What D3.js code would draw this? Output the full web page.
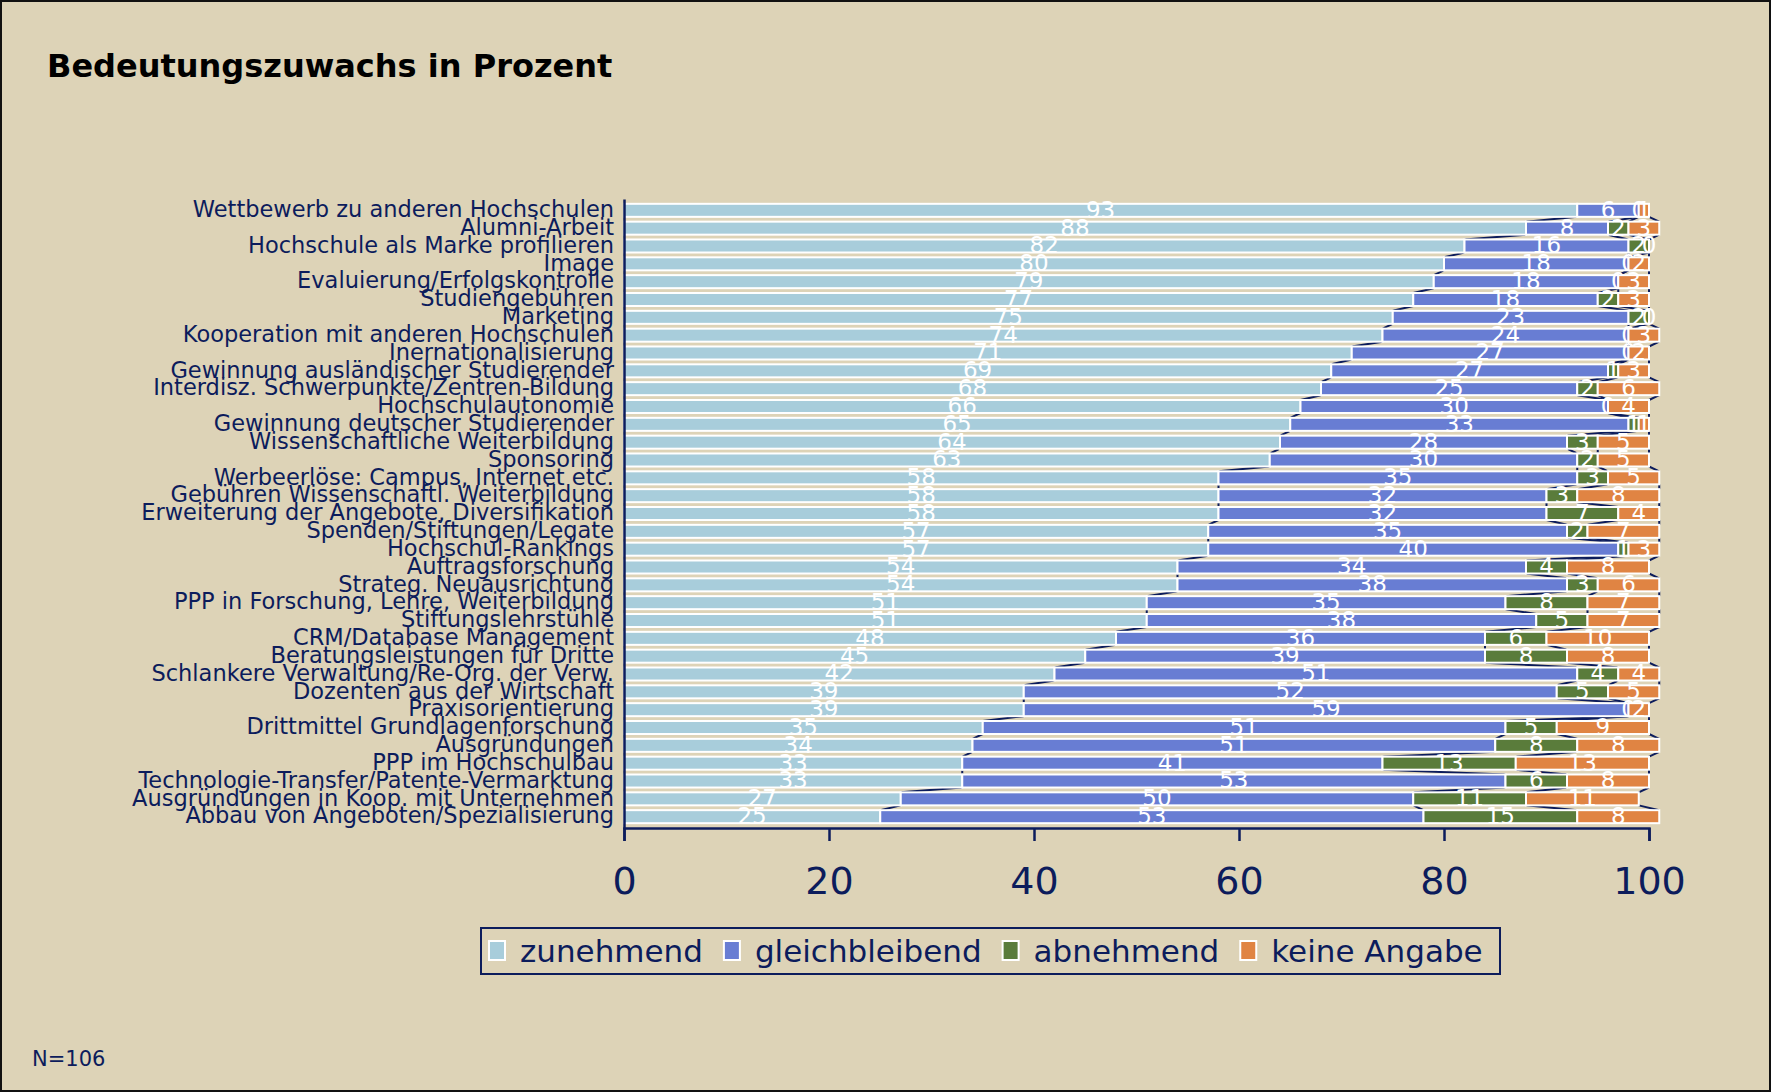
<!DOCTYPE html>
<html>
<head>
<meta charset="utf-8">
<script src="https://cdn.jsdelivr.net/npm/d3@7"></script>
<style>
  body { margin: 0; background: #ddd3b7; }
  text { font-family: 'DejaVu Sans', Verdana, sans-serif; }
</style>
</head>
<body>
<script>
// categories top to bottom
var categories = [
  'Wettbewerb zu anderen Hochschulen',
  'Alumni-Arbeit',
  'Hochschule als Marke profilieren',
  'Image',
  'Evaluierung/Erfolgskontrolle',
  'Studiengebühren',
  'Marketing',
  'Kooperation mit anderen Hochschulen',
  'Inernationalisierung',
  'Gewinnung ausländischer Studierender',
  'Interdisz. Schwerpunkte/Zentren-Bildung',
  'Hochschulautonomie',
  'Gewinnung deutscher Studierender',
  'Wissenschaftliche Weiterbildung',
  'Sponsoring',
  'Werbeerlöse: Campus, Internet etc.',
  'Gebühren Wissenschaftl. Weiterbildung',
  'Erweiterung der Angebote, Diversifikation',
  'Spenden/Stiftungen/Legate',
  'Hochschul-Rankings',
  'Auftragsforschung',
  'Strateg. Neuausrichtung',
  'PPP in Forschung, Lehre, Weiterbildung',
  'Stiftungslehrstühle',
  'CRM/Database Management',
  'Beratungsleistungen für Dritte',
  'Schlankere Verwaltung/Re-Org. der Verw.',
  'Dozenten aus der Wirtschaft',
  'Praxisorientierung',
  'Drittmittel Grundlagenforschung',
  'Ausgründungen',
  'PPP im Hochschulbau',
  'Technologie-Transfer/Patente-Vermarktung',
  'Ausgründungen in Koop. mit Unternehmen',
  'Abbau von Angeboten/Spezialisierung'
];
var zunehmend = [93, 88, 82, 80, 79, 77, 75, 74, 71, 69, 68, 66, 65, 64, 63, 58, 58, 58, 57, 57,
  54, 54, 51, 51, 48, 45, 42, 39, 39, 35, 34, 33, 33, 27, 25];
var gleichbleibend = [6, 8, 16, 18, 18, 18, 23, 24, 27, 27, 25, 30, 33, 28, 30, 35, 32, 32, 35, 40,
  34, 38, 35, 38, 36, 39, 51, 52, 59, 51, 51, 41, 53, 50, 53];
var abnehmend = [0, 2, 2, 0, 0, 2, 2, 0, 0, 1, 2, 0, 1, 3, 2, 3, 3, 7, 2, 1,
  4, 3, 8, 5, 6, 8, 4, 5, 0, 5, 8, 13, 6, 11, 15];
var keineAngabe = [1, 3, 0, 2, 3, 3, 0, 3, 2, 3, 6, 4, 1, 5, 5, 5, 8, 4, 7, 3,
  8, 6, 7, 7, 10, 8, 4, 5, 2, 9, 8, 13, 8, 11, 8];
var seriesNames = ['zunehmend', 'gleichbleibend', 'abnehmend', 'keine Angabe'];
var seriesColors = ['#a8cddb', '#687dd3', '#5a7c3b', '#e08443'];
var tickValues = [0, 20, 40, 60, 80, 100];

var navy = '#0c1c5c';

var svg = d3
  .select('body')
  .append('svg')
  .attr('width', 1771)
  .attr('height', 1092);

svg
  .append('rect')
  .attr('x', 1)
  .attr('y', 1)
  .attr('width', 1769)
  .attr('height', 1090)
  .attr('fill', '#ddd3b7')
  .attr('stroke', '#111')
  .attr('stroke-width', 2);

var rows = categories.map(function (c, i) {
  return {
    cat: c,
    'zunehmend': zunehmend[i],
    'gleichbleibend': gleichbleibend[i],
    'abnehmend': abnehmend[i],
    'keine Angabe': keineAngabe[i]
  };
});

var x = d3.scaleLinear().domain([0, 100]).range([624, 1649]);
var y = d3.scaleBand().domain(categories).range([199, 828]).padding(0.27);
var color = d3.scaleOrdinal().domain(seriesNames).range(seriesColors);

var stacked = d3.stack().keys(seriesNames)(rows);

// series lines between neighbouring bars
var bw = y.bandwidth();
stacked.forEach(function (s) {
  for (var i = 0; i < s.length - 1; i++) {
    svg
      .append('line')
      .attr('x1', x(s[i][1]))
      .attr('y1', y(s[i].data.cat) + bw)
      .attr('x2', x(s[i + 1][1]))
      .attr('y2', y(s[i + 1].data.cat))
      .attr('stroke', navy)
      .attr('stroke-width', 2);
  }
});

var groups = svg
  .selectAll('g.series')
  .data(stacked)
  .enter()
  .append('g')
  .attr('class', 'series')
  .attr('fill', function (d) {
    return color(d.key);
  });

groups
  .selectAll('rect')
  .data(function (d) {
    return d;
  })
  .enter()
  .append('rect')
  .attr('x', function (d) {
    return x(d[0]);
  })
  .attr('y', function (d) {
    return y(d.data.cat);
  })
  .attr('width', function (d) {
    return x(d[1]) - x(d[0]);
  })
  .attr('height', bw)
  .attr('stroke', '#fff')
  .attr('stroke-width', 2);

// axes
var xAxis = svg
  .append('g')
  .attr('transform', 'translate(0,828)')
  .call(d3.axisBottom(x).tickValues(tickValues).tickSize(13).tickPadding(26));
xAxis.selectAll('path, line').attr('stroke', navy).attr('stroke-width', 2.5);
xAxis
  .selectAll('text')
  .attr('fill', navy)
  .style('font-size', '38px')
  .style('font-family', "'DejaVu Sans', Verdana, sans-serif");

var yAxis = svg
  .append('g')
  .attr('transform', 'translate(624,0)')
  .call(d3.axisLeft(y).tickSize(0).tickSizeOuter(0).tickPadding(10));
yAxis.select('.domain').attr('stroke', navy).attr('stroke-width', 2.5);
yAxis
  .selectAll('text')
  .attr('fill', navy)
  .attr('dy', '0.3em')
  .style('font-size', '22.5px')
  .style('font-family', "'DejaVu Sans', Verdana, sans-serif");

// data labels
groups
  .selectAll('text')
  .data(function (d) {
    return d.map(function (v) {
      v.key = d.key;
      return v;
    });
  })
  .enter()
  .append('text')
  .attr('x', function (d) {
    return x((d[0] + d[1]) / 2);
  })
  .attr('y', function (d) {
    return y(d.data.cat) + bw / 2;
  })
  .attr('dy', '0.32em')
  .attr('text-anchor', 'middle')
  .attr('fill', '#fff')
  .style('font-size', '23px')
  .text(function (d) {
    return d.data[d.key];
  });

// title
svg
  .append('text')
  .attr('x', 47)
  .attr('y', 77)
  .attr('fill', '#000')
  .style('font-size', '32px')
  .style('font-weight', 'bold')
  .text('Bedeutungszuwachs in Prozent');

// legend
var legend = svg.append('g');
legend
  .append('rect')
  .attr('x', 481)
  .attr('y', 928)
  .attr('width', 1019)
  .attr('height', 46)
  .attr('fill', 'none')
  .attr('stroke', navy)
  .attr('stroke-width', 2);
var lx = 489;
seriesNames.forEach(function (name) {
  legend
    .append('rect')
    .attr('x', lx)
    .attr('y', 941)
    .attr('width', 16)
    .attr('height', 19)
    .attr('fill', color(name))
    .attr('stroke', '#fff')
    .attr('stroke-width', 2);
  var t = legend
    .append('text')
    .attr('x', lx + 31)
    .attr('y', 962)
    .attr('fill', navy)
    .style('font-size', '31px')
    .text(name);
  lx = lx + 31 + t.node().getComputedTextLength() + 21;
});

svg
  .append('text')
  .attr('x', 32)
  .attr('y', 1066)
  .attr('fill', navy)
  .style('font-size', '21px')
  .text('N=106');
</script>
</body>
</html>
